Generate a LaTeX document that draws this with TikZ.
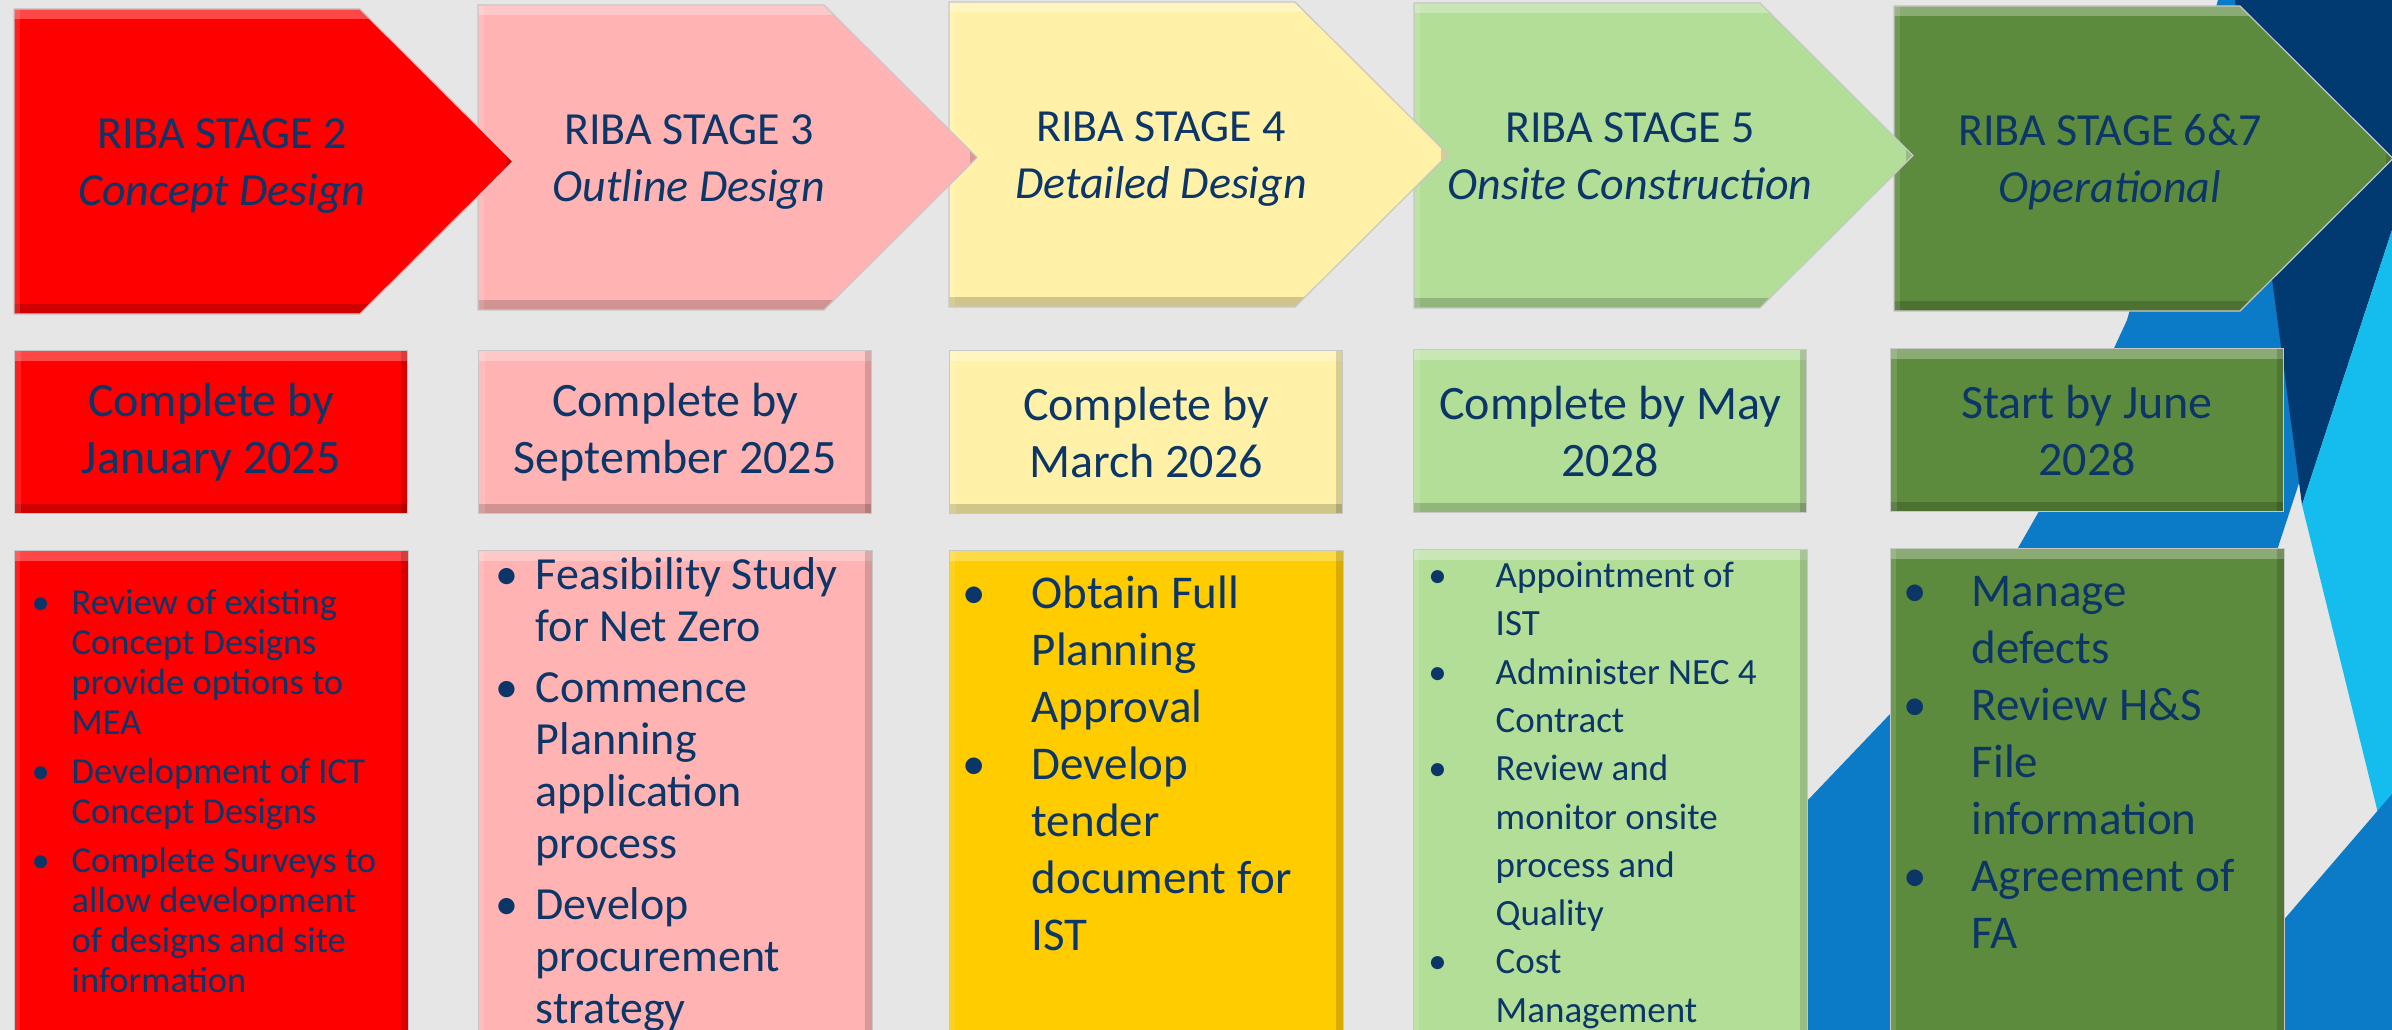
\documentclass[tikz,border=0pt]{standalone}
\usepackage{fontspec}
\setmainfont{Carlito}
\usetikzlibrary{positioning}

\definecolor{bggray}{HTML}{E6E6E6}
\definecolor{textnavy}{HTML}{0C3668}
\definecolor{stagered}{HTML}{FF0000}
\definecolor{stagepink}{HTML}{FFB3B3}
\definecolor{stageyellow}{HTML}{FFF2A8}
\definecolor{stagegold}{HTML}{FFCC00}
\definecolor{stagelime}{HTML}{B3DE98}
\definecolor{stagegreen}{HTML}{5D8B3D}
\definecolor{facetnavy}{HTML}{003A70}
\definecolor{facetblue}{HTML}{0B7BC8}
\definecolor{facetcyan}{HTML}{14BDEE}

% bullet hung to the left of an item
\newcommand\bul[1]{\llap{\textbullet\hspace{#1}}}
% pentagon arrow of one stage, top left corner at (#1,#2)
\newcommand\stagearrow[3]{%
  \path[bevel, draw=black!22, line width=1.2pt, fill=#3]
    (#1,#2) -- ++(346,0) -- ++(153,152.5) -- ++(-153,152.5) -- ++(-346,0) -- cycle;}

\tikzset{
  bevel/.style={path picture={
    \fill[white, opacity=.28] (path picture bounding box.north west)
      rectangle ([yshift=-10pt]path picture bounding box.north east);
    \fill[black, opacity=.18] ([yshift=10pt]path picture bounding box.south west)
      rectangle (path picture bounding box.south east);
    \fill[black, opacity=.15] ([xshift=-7pt]path picture bounding box.north east)
      rectangle (path picture bounding box.south east);
    \fill[white, opacity=.12] (path picture bounding box.north west)
      rectangle ([xshift=6pt]path picture bounding box.south west);
  }},
  % anchor base is the baseline of the last line
  stagetitle/.style={align=center, text=textnavy, anchor=base,
    font=\fontsize{46}{57}\selectfont},
  datebox/.style={bevel, draw=black!22, line width=1.2pt, rectangle,
    minimum width=393pt, minimum height=163pt, anchor=north west,
    align=center, text=textnavy, font=\fontsize{48}{57}\selectfont},
  taskbox/.style={bevel, draw=black!22, line width=1.2pt, rectangle,
    minimum width=394pt, minimum height=496pt, inner sep=0pt},
  tasklist/.style={align=left, anchor=base west, text=textnavy, inner sep=0pt},
}

\begin{document}
\begin{tikzpicture}[x=1pt, y=-1pt]
  \fill[bggray] (0,0) rectangle (2392,1030);
  \useasboundingbox (0,0) rectangle (2392,1030);

  % facets along the right edge
  \fill[facetblue] (2218,0) -- (2290,0) -- (2300,480) -- (2120,1030) -- (1590,1030)
    -- (1807,801) -- (1891,713) -- (2018,548) -- (2038,513) -- (2127,320) -- cycle;
  \fill[facetnavy] (2235,0) -- (2392,0) -- (2392,230) -- (2302,505) -- cycle;
  \fill[facetcyan] (2392,230) -- (2302,505) -- (2392,870) -- cycle;
  \fill[facetblue] (2392,794) -- (2189,1030) -- (2392,1030) -- cycle;

  % stage arrows, right to left so each point lies over the next one
  \stagearrow{1894}{6}{stagegreen}
  \stagearrow{1414}{3}{stagelime}
  \stagearrow{949}{2}{stageyellow}
  \stagearrow{478}{5}{stagepink}
  \stagearrow{14}{9}{stagered}

  \node[stagetitle] (title2) at (222,205) {RIBA STAGE 2\\\textit{Concept Design}};
  \node[stagetitle] (title3) at (689,201) {RIBA STAGE 3\\\textit{Outline Design}};
  \node[stagetitle] (title4) at (1161,198) {RIBA STAGE 4\\\textit{Detailed Design}};
  \node[stagetitle] (title5) at (1630,199) {RIBA STAGE 5\\\textit{Onsite Construction}};
  \node[stagetitle] (title6) at (2110,202) {RIBA STAGE 6\&7\\\textit{Operational}};

  % target dates
  \node[datebox, fill=stagered] (date2) at (14,350) {Complete by\\January 2025};
  \node[datebox, fill=stagepink] (date3) at (478,350) {Complete by\\September 2025};
  \node[datebox, fill=stageyellow] (date4) at (949,350) {Complete by\\March 2026};
  \node[datebox, fill=stagelime] (date5) at (1413,349) {Complete by May\\2028};
  \node[datebox, fill=stagegreen] (date6) at (1890,348) {Start by June\\2028};

  % tasks of each stage
  \node[taskbox, fill=stagered, below=36pt of date2] (task2) {};
  \node[taskbox, fill=stagepink, below=36pt of date3] (task3) {};
  \node[taskbox, fill=stagegold, below=36pt of date4] (task4) {};
  \node[taskbox, fill=stagelime, below=36pt of date5] (task5) {};
  \node[taskbox, fill=stagegreen, below=36pt of date6] (task6) {};

  \node[tasklist, font=\fontsize{36.5}{40}\selectfont] (list2)
    at ([shift={(58,442)}]task2.north west) {%
    \bul{22pt}Review of existing\\Concept Designs\\provide options to\\MEA\\[9pt]%
    \bul{22pt}Development of ICT\\Concept Designs\\[9pt]%
    \bul{22pt}Complete Surveys to\\allow development\\of designs and site\\information};
  \node[tasklist, font=\fontsize{46}{52}\selectfont] (list3)
    at ([shift={(58,473)}]task3.north west) {%
    \bul{17pt}Feasibility Study\\for Net Zero\\[9pt]%
    \bul{17pt}Commence\\Planning\\application\\process\\[9pt]%
    \bul{17pt}Develop\\procurement\\strategy};
  \node[tasklist, font=\fontsize{47}{57}\selectfont] (list4)
    at ([shift={(83,400)}]task4.north west) {%
    \bul{46pt}Obtain Full\\Planning\\Approval\\%
    \bul{46pt}Develop\\tender\\document for\\IST};
  \node[tasklist, font=\fontsize{37}{48.3}\selectfont] (list5)
    at ([shift={(83,473)}]task5.north west) {%
    \bul{49pt}Appointment of\\IST\\%
    \bul{49pt}Administer NEC 4\\Contract\\%
    \bul{49pt}Review and\\monitor onsite\\process and\\Quality\\%
    \bul{49pt}Cost\\Management};
  \node[tasklist, font=\fontsize{47}{57}\selectfont] (list6)
    at ([shift={(82,400)}]task6.north west) {%
    \bul{45pt}Manage\\defects\\%
    \bul{45pt}Review H\&S\\File\\information\\%
    \bul{45pt}Agreement of\\FA};
\end{tikzpicture}
\end{document}
